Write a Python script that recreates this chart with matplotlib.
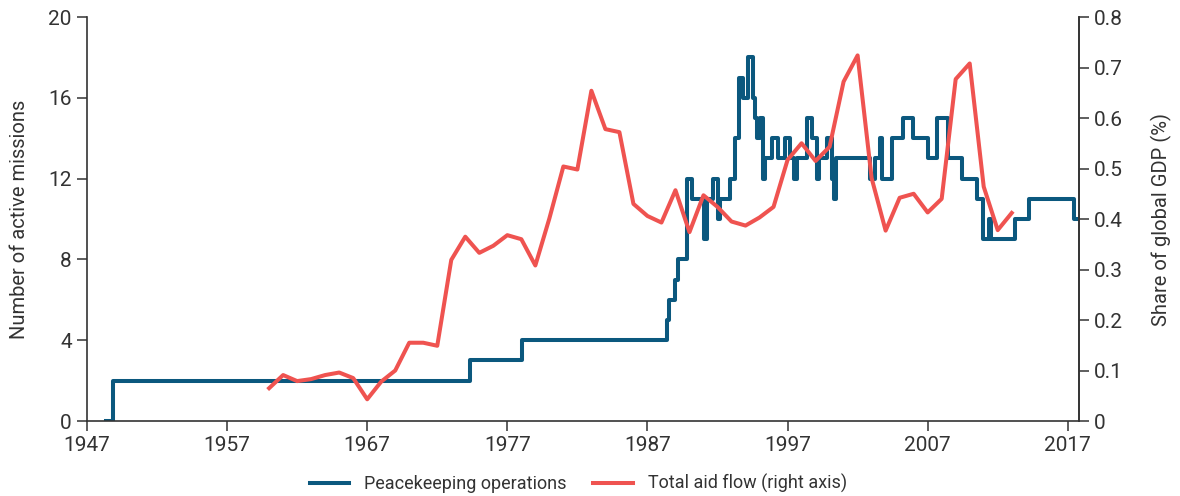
import matplotlib
matplotlib.use("Agg")
import matplotlib.pyplot as plt

plt.rcParams['font.family'] = ['Roboto', 'DejaVu Sans']

# peacekeeping operations: (date of change, number of active missions)
pk_dates = [1948.36, 1948.88, 1974.34, 1978.05, 1988.40, 1988.55, 1988.97, 1989.18,
            1989.80, 1990.16, 1991.07, 1991.25, 1991.70, 1992.06, 1992.20, 1992.90,
            1993.22, 1993.56, 1993.82, 1994.20, 1994.52, 1994.68, 1994.82, 1995.04,
            1995.23, 1995.36, 1995.87, 1996.34, 1996.82, 1997.18, 1997.46, 1997.68,
            1998.37, 1998.73, 1999.07, 1999.28, 1999.78, 2000.14, 2000.32, 2000.46,
            2002.89, 2003.24, 2003.57, 2003.74, 2004.44, 2005.21, 2005.98, 2007.05,
            2007.65, 2008.48, 2009.46, 2010.49, 2010.96, 2011.38, 2011.53, 2013.24,
            2014.24, 2017.45, 2017.74]
pk_missions = [0, 2, 3, 4, 5, 6, 7, 8,
               12, 11, 9, 11, 12, 10, 11, 12,
               14, 17, 16, 18, 16, 15, 14, 15,
               12, 13, 14, 13, 14, 13, 12, 13,
               15, 14, 12, 13, 14, 12, 11, 13,
               12, 13, 14, 12, 14, 15, 14, 13,
               15, 13, 12, 11, 9, 10, 9, 10,
               11, 10, 10]

# total aid flow, share of global GDP (%)
aid_years = list(range(1960, 2014))
aid_share = [0.065, 0.091, 0.079, 0.083, 0.091, 0.096, 0.085, 0.043, 0.078, 0.100,
             0.155, 0.155, 0.149, 0.319, 0.365, 0.333, 0.347, 0.368, 0.360, 0.308,
             0.401, 0.504, 0.498, 0.654, 0.578, 0.572, 0.430, 0.406, 0.393, 0.457,
             0.374, 0.447, 0.424, 0.395, 0.387, 0.403, 0.424, 0.517, 0.550, 0.515,
             0.543, 0.672, 0.724, 0.481, 0.377, 0.442, 0.450, 0.413, 0.440, 0.677,
             0.708, 0.464, 0.378, 0.412]

left_ticks = [0, 4, 8, 12, 16, 20]
right_ticks = [0, 0.1, 0.2, 0.3, 0.4, 0.5, 0.6, 0.7, 0.8]
right_labels = ['0', '0.1', '0.2', '0.3', '0.4', '0.5', '0.6', '0.7', '0.8']
x_ticks = [1947, 1957, 1967, 1977, 1987, 1997, 2007, 2017]

blue = '#0b587e'
red = '#ef5350'
txt = '#333333'

fig = plt.figure(figsize=(11.8, 4.96), dpi=100)
ax = fig.add_axes([0.0737, 0.1512, 0.8407, 0.8145])
ax2 = ax.twinx()

l1, = ax.step(pk_dates, pk_missions, where='post', color=blue, lw=2.9,
              label='Peacekeeping operations')
l2, = ax2.plot(aid_years, aid_share, color=red, lw=2.9,
               label='Total aid flow (right axis)')

ax.set_xlim(1947, 2017.8)
ax.set_ylim(0, 20)
ax2.set_ylim(0, 0.8)
ax.set_xticks(x_ticks)
ax.set_yticks(left_ticks)
ax2.set_yticks(right_ticks)
ax2.set_yticklabels(right_labels)

for a in (ax, ax2):
    a.spines['top'].set_visible(False)
    for s in a.spines.values():
        s.set_color(txt)
        s.set_linewidth(1.2)
    a.tick_params(axis='both', labelsize=15, colors=txt, length=7, width=1.1,
                  direction='out', pad=4)
ax2.spines['left'].set_visible(False)
ax2.spines['bottom'].set_visible(False)

ax.set_ylabel('Number of active missions', fontsize=14.5, color=txt, labelpad=14)
ax2.set_ylabel('Share of global GDP (%)', fontsize=14.5, color=txt, labelpad=20)

fig.legend(handles=[l1, l2], loc='center', bbox_to_anchor=(0.49, 0.025),
           ncol=2, frameon=False, fontsize=13, handlelength=2.2,
           columnspacing=1.5, labelcolor=txt)

fig.savefig('out.png', dpi=100)
